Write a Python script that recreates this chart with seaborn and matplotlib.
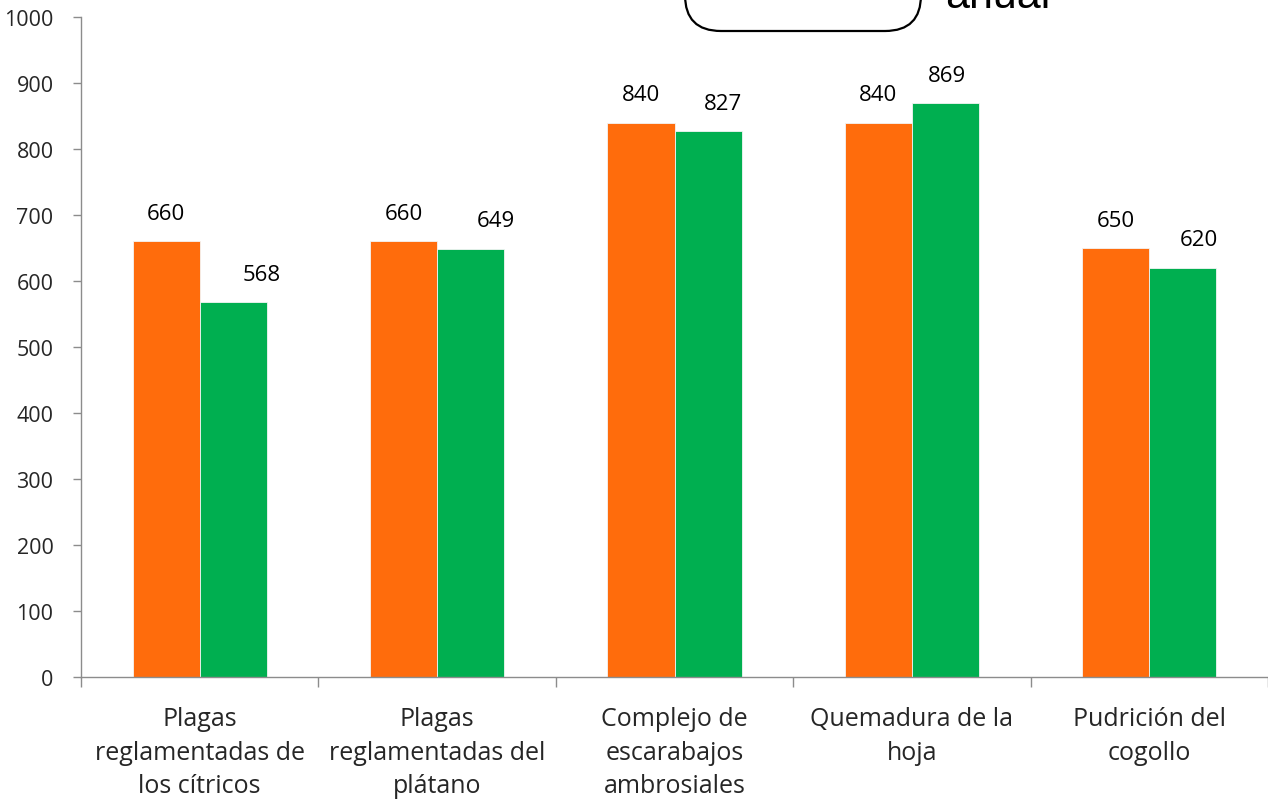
import matplotlib
matplotlib.use("Agg")
import matplotlib.pyplot as plt
import seaborn as sns
import pandas as pd
from matplotlib.patches import FancyBboxPatch
from matplotlib.transforms import IdentityTransform

categories = [
    "Plagas\nreglamentadas de\nlos cítricos",
    "Plagas\nreglamentadas del\nplátano",
    "Complejo de\nescarabajos\nambrosiales",
    "Quemadura de la\nhoja",
    "Pudrición del\ncogollo",
]
series_names = ["Meta", "Logro"]
meta_values = [660, 660, 840, 840, 650]
logro_values = [568, 649, 827, 869, 620]
y_ticks = [0, 100, 200, 300, 400, 500, 600, 700, 800, 900, 1000]

colors = ["#FF6C0C", "#00AF50"]
green_label_dx = [28, 25, 15, 2, 16]  # pixel shifts of green labels

df = pd.DataFrame({
    "cat": categories * 2,
    "serie": [series_names[0]] * 5 + [series_names[1]] * 5,
    "valor": meta_values + logro_values,
})

sns.set_style("white")
plt.rcParams["font.family"] = ["Open Sans", "DejaVu Sans"]

W, H = 1268, 803
fig = plt.figure(figsize=(W / 100, H / 100), dpi=100)
ax = fig.add_axes([81 / W, 1 - 678 / H, (W - 81) / W, (678 - 18) / H])

sns.barplot(data=df, x="cat", y="valor", hue="serie", palette=colors,
            width=0.565, gap=0, ax=ax, legend=False,
            edgecolor="#F4F4F4", linewidth=0.6, saturation=1)

ax.set_xlim(-0.5, 4.5)
ax.set_ylim(0, 1000)
ax.set_yticks(y_ticks)
ax.set_xlabel("")
ax.set_ylabel("")

for s in ["top", "right"]:
    ax.spines[s].set_visible(False)
for s in ["left", "bottom"]:
    ax.spines[s].set_color("#8C8C8C")
    ax.spines[s].set_linewidth(1.0)

ax.tick_params(axis="y", which="major", left=True, length=5.8, width=1.0,
               color="#8C8C8C", pad=14, labelsize=15.5)
ax.tick_params(axis="x", which="major", bottom=False, length=0, pad=21, labelsize=18)
ax.set_xticks([i + 0.5 for i in range(-1, 5)], minor=True)
ax.tick_params(axis="x", which="minor", bottom=True, length=7.5, width=1.0,
               color="#8C8C8C")
for lab in ax.get_xticklabels():
    lab.set_linespacing(1.45)

# data labels
containers = ax.containers
for ci, cont in enumerate(containers):
    for bi, bar in enumerate(cont):
        h = bar.get_height()
        dx = 0 if ci == 0 else green_label_dx[bi]
        ax.annotate(f"{int(round(h))}",
                    (bar.get_x() + bar.get_width() / 2, h),
                    xytext=(dx * 0.72, 28 * 0.72), textcoords="offset points",
                    ha="center", va="center", fontsize=16, color="black")

# rounded box clipped at the top
box = FancyBboxPatch((685, H - 32), 236, 120,
                     boxstyle="round,pad=0,rounding_size=36",
                     transform=IdentityTransform(), facecolor="white",
                     edgecolor="black", linewidth=1.6)
fig.add_artist(box)
fig.text(945 / W, 1 - 8 / H, "anual", fontsize=31, family="Liberation Sans",
         ha="left", va="baseline", color="black")

fig.savefig("out.png", dpi=100)
